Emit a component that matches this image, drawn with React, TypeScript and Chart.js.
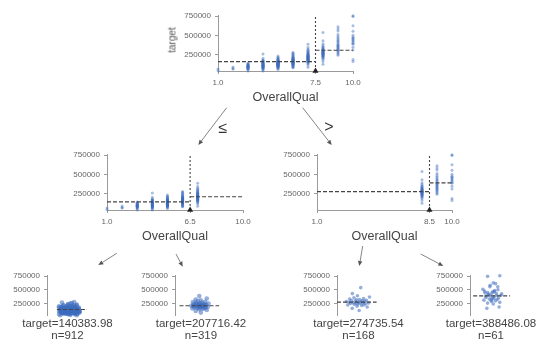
import { useEffect, useRef } from 'react';
import { Chart, registerables } from 'chart.js';

Chart.register(...registerables);

// ---------- data ----------
const FEATURE = 'OverallQual';
const TARGET = 'target';
const Y_MIN = 34900;
const Y_MAX = 755000;
const Y_TICKS = [250000, 500000, 750000];
const X_MIN = 1;
const X_MAX = 10;

const Q1 = [39300, 61000];
const Q2 = [60000, 68000, 87000];
const Q3 = [35311, 55000, 61000, 67000, 72500, 76000, 80000, 84000, 87000, 90000, 93000, 96500, 100000, 106000, 110000, 116000, 122000, 128000, 139600];
const Q4 = [34900, 52000, 60000, 67000, 73000, 78000, 82000, 86000, 89500, 93000, 96000, 99000, 102000, 105000, 108000, 111000, 114500, 118000, 121500, 125000, 129000, 133000, 137500, 142000, 147000, 152000, 158000, 165000, 172000, 180000, 200000, 256000];
const Q5 = [55000, 68000, 76500, 82000, 86000, 90000, 93500, 97000, 100000, 103000, 106000, 108500, 111000, 113500, 116000, 118000, 120000, 122000, 124000, 126000, 128000, 130000, 132000, 134000, 136000, 138000, 140000, 142500, 145000, 147500, 150000, 153000, 156000, 159000, 162500, 166000, 170000, 175000, 181000, 188000, 196000, 205000, 215000, 228950];
const Q6 = [76000, 85000, 93000, 100000, 106000, 112000, 117000, 121000, 125000, 129000, 132500, 136000, 139000, 142000, 145000, 148000, 151000, 154000, 157000, 160000, 163000, 166000, 169000, 172000, 175000, 178000, 181500, 185000, 189000, 193000, 197000, 202000, 208000, 214000, 221000, 230000, 240000, 252000, 265000, 277000];
const Q7 = [82500, 112000, 130000, 142000, 150000, 157000, 163000, 168000, 172500, 176500, 180000, 183500, 187000, 190000, 193000, 196000, 199000, 202000, 205000, 208000, 211000, 214000, 217000, 220000, 223000, 226500, 230000, 234000, 238000, 242000, 247000, 252000, 258000, 265000, 273000, 282000, 293000, 305000, 320000, 340000, 383970];
const Q8 = [122000, 160000, 185000, 200000, 212000, 220000, 227000, 233000, 238000, 243000, 248000, 252000, 256000, 260000, 264000, 268000, 272000, 276000, 280000, 284000, 288000, 292000, 297000, 302000, 308000, 315000, 322000, 330000, 340000, 352000, 368000, 390000, 430000, 538000];
const Q9 = [239000, 256000, 270000, 285000, 297000, 310000, 320000, 330000, 340000, 350000, 360000, 372000, 385000, 400000, 415000, 430000, 445000, 465000, 485000, 510000, 556000, 582000, 611657];
const Q10 = [160000, 184750, 310000, 345000, 385000, 395000, 410000, 426000, 438000, 451000, 465000, 475000, 501000, 555000, 625000, 745000, 755000];

const QUALITY = [1, 2, 3, 4, 5, 6, 7, 8, 9, 10];
const VALUES_BY_QUALITY = [Q1, Q2, Q3, Q4, Q5, Q6, Q7, Q8, Q9, Q10];

const ROOT_SPLIT = 7.5;
const LEFT_SPLIT = 6.5;
const RIGHT_SPLIT = 8.5;
const ROOT_MEANS = [157832.43, 305035.9];
const LEFT_MEANS = [140383.98, 207716.42];
const RIGHT_MEANS = [274735.54, 388486.08];

const LEAF_MEANS = [140383.98, 207716.42, 274735.54, 388486.08];
const LEAF_COUNTS = [912, 319, 168, 61];
const LEAF_QUALITIES = [[1, 2, 3, 4, 5, 6], [7], [8], [9, 10]];

const JITTER = [0.12, -0.45, 0.78, -0.05, 0.33, -0.82, 0.51, -0.27, 0.02, 0.66, -0.6, 0.21, -0.14, 0.9, -0.38, 0.44, -0.71, 0.08, 0.27, -0.93, 0.58, -0.19, 0.36, -0.52, 0.71, -0.09, 0.15, -0.66, 0.48, -0.31, 0.97, -0.02, -0.44, 0.25, -0.76, 0.6, -0.22];

// ---------- style ----------
const FONT = "'Liberation Sans', Arial, sans-serif";
const PT = 'rgba(62,108,190,0.45)';
const PT_LEAF = 'rgba(62,108,190,0.55)';
const AXIS = '#9a9a9a';
const TICK = '#666';
const DASH = '#444';
const YW = 44;

type Box = { l: number; t: number; r: number; b: number };

function yScale(extra: any = {}) {
  return {
    type: 'linear',
    min: Y_MIN,
    max: Y_MAX,
    afterBuildTicks: (s: any) => { s.ticks = Y_TICKS.map((v) => ({ value: v })); },
    afterFit: (s: any) => { s.width = YW; },
    ticks: { autoSkip: false, padding: 4, color: TICK, font: { family: FONT, size: 8 }, callback: (v: any) => String(v) },
    grid: { display: true, drawOnChartArea: false, drawTicks: true, tickLength: 3, color: AXIS },
    border: { display: true, color: AXIS, width: 1 },
    ...extra,
  };
}

function SplitNode({ box, qualities, split, means, yTitle }: { box: Box; qualities: number[]; split: number; means: number[]; yTitle?: boolean }) {
  const ref = useRef<HTMLCanvasElement>(null);
  const PAD = { top: 8, right: 12 };
  const XH = 20;
  const cl = box.l - YW;
  const ct = box.t - PAD.top;
  const cw = box.r - cl + PAD.right;
  const ch = box.b - ct + XH;
  useEffect(() => {
    const pts: { x: number; y: number }[] = [];
    qualities.forEach((q) => {
      VALUES_BY_QUALITY[QUALITY.indexOf(q)].forEach((v) => pts.push({ x: q, y: v }));
    });
    const line = (data: any[], dash: number[]) => ({
      type: 'line', data, showLine: true, borderColor: DASH, borderWidth: 1.1, borderDash: dash,
      pointRadius: 0, fill: false, clip: false,
    });
    const chart = new Chart(ref.current as HTMLCanvasElement, {
      type: 'scatter',
      data: {
        datasets: [
          { type: 'scatter', data: [{ x: split, y: Y_MIN }], pointStyle: 'triangle', pointRadius: 3.5, backgroundColor: '#222', borderColor: '#222', borderWidth: 0, clip: false } as any,
          line([{ x: split, y: Y_MIN }, { x: split, y: Y_MAX + 10000 }], [2, 2]),
          line([{ x: X_MIN, y: means[0] }, { x: split, y: means[0] }], [4, 2]),
          line([{ x: split, y: means[1] }, { x: X_MAX, y: means[1] }], [4, 2]),
          { type: 'scatter', data: pts, pointRadius: 1.5, backgroundColor: PT, borderWidth: 0, clip: false } as any,
        ],
      },
      options: {
        responsive: false,
        animation: false,
        layout: { padding: { left: 0, top: PAD.top, right: PAD.right, bottom: 0 } },
        plugins: { legend: { display: false }, tooltip: { enabled: false } },
        scales: {
          x: {
            type: 'linear', min: X_MIN, max: X_MAX,
            afterBuildTicks: (s: any) => { s.ticks = [X_MIN, split, X_MAX].map((v) => ({ value: v })); },
            afterFit: (s: any) => { s.height = XH; },
            ticks: { autoSkip: false, padding: 4, maxRotation: 0, color: TICK, font: { family: FONT, size: 8 }, callback: (v: any) => Number(v).toFixed(1) },
            grid: { display: true, drawOnChartArea: false, drawTicks: true, tickLength: 3, color: AXIS },
            border: { display: true, color: AXIS, width: 1 },
          },
          y: yScale(),
        },
      } as any,
    } as any);
    return () => chart.destroy();
  }, []);
  return (
    <>
      <canvas ref={ref} width={cw} height={ch} style={{ position: 'absolute', left: cl, top: ct, width: cw, height: ch }} />
      <div style={{ position: 'absolute', left: (box.l + box.r) / 2, top: box.b + 26, transform: 'translate(-50%,-50%)', font: `12.5px ${FONT}`, color: '#444', whiteSpace: 'nowrap' }}>{FEATURE}</div>
      {yTitle ? (
        <div style={{ position: 'absolute', left: box.l - 46, top: box.t + 25, transform: 'translate(-50%,-50%) rotate(-90deg)', font: `10px ${FONT}`, color: '#555', whiteSpace: 'nowrap' }}>{TARGET}</div>
      ) : null}
    </>
  );
}

function Leaf({ box, idx, center, spread, lineFrom, lineTo, textX }: { box: Box; idx: number; center: number; spread: number; lineFrom: number; lineTo: number; textX: number }) {
  const ref = useRef<HTMLCanvasElement>(null);
  const PAD = { top: 8, right: 4, bottom: 8 };
  const cl = box.l - YW;
  const ct = box.t - PAD.top;
  const cw = box.r - cl + PAD.right;
  const ch = box.b - ct + PAD.bottom;
  useEffect(() => {
    const vals: number[] = [];
    LEAF_QUALITIES[idx].forEach((q) => VALUES_BY_QUALITY[QUALITY.indexOf(q)].forEach((v) => vals.push(v)));
    const pts = vals.map((v, i) => ({ x: center + JITTER[i % JITTER.length] * spread, y: v }));
    const m = LEAF_MEANS[idx];
    const chart = new Chart(ref.current as HTMLCanvasElement, {
      type: 'scatter',
      data: {
        datasets: [
          { type: 'line', data: [{ x: lineFrom, y: m }, { x: lineTo, y: m }], showLine: true, borderColor: DASH, borderWidth: 1.1, borderDash: [4, 2], pointRadius: 0, fill: false, clip: false } as any,
          { type: 'scatter', data: pts, pointRadius: idx < 2 ? 2.3 : 1.8, backgroundColor: PT_LEAF, borderWidth: 0, clip: false } as any,
        ],
      },
      options: {
        responsive: false,
        animation: false,
        layout: { padding: { left: 0, top: PAD.top, right: PAD.right, bottom: PAD.bottom } },
        plugins: { legend: { display: false }, tooltip: { enabled: false } },
        scales: {
          x: { type: 'linear', min: 0, max: 1, display: false },
          y: yScale(),
        },
      } as any,
    } as any);
    return () => chart.destroy();
  }, []);
  const txt = { position: 'absolute' as const, left: textX, transform: 'translate(-50%,-50%)', font: `11.5px ${FONT}`, color: '#444', whiteSpace: 'nowrap' as const };
  return (
    <>
      <canvas ref={ref} width={cw} height={ch} style={{ position: 'absolute', left: cl, top: ct, width: cw, height: ch }} />
      <div style={{ ...txt, top: 323 }}>{`${TARGET}=${LEAF_MEANS[idx].toFixed(2)}`}</div>
      <div style={{ ...txt, top: 334.5 }}>{`n=${LEAF_COUNTS[idx]}`}</div>
    </>
  );
}

function Arrow({ x1, y1, x2, y2 }: { x1: number; y1: number; x2: number; y2: number }) {
  const dx = x2 - x1;
  const dy = y2 - y1;
  const len = Math.hypot(dx, dy);
  const ux = dx / len;
  const uy = dy / len;
  const hl = 5;
  const hw = 2.2;
  const bx = x2 - ux * hl;
  const by = y2 - uy * hl;
  const p = `${x2},${y2} ${bx - uy * hw},${by + ux * hw} ${bx + uy * hw},${by - ux * hw}`;
  return (
    <g>
      <line x1={x1} y1={y1} x2={bx} y2={by} stroke="#777" strokeWidth={0.9} />
      <polygon points={p} fill="#555" />
    </g>
  );
}

export default function App() {
  return (
    <div style={{ position: 'absolute', left: 0, top: 0, width: 537, height: 339, overflow: 'hidden', background: '#fff' }}>
      <SplitNode box={{ l: 218, t: 15, r: 353, b: 71 }} qualities={QUALITY} split={ROOT_SPLIT} means={ROOT_MEANS} yTitle />
      <SplitNode box={{ l: 107, t: 154, r: 243, b: 210 }} qualities={[1, 2, 3, 4, 5, 6, 7]} split={LEFT_SPLIT} means={LEFT_MEANS} />
      <SplitNode box={{ l: 317, t: 154, r: 452, b: 210 }} qualities={[8, 9, 10]} split={RIGHT_SPLIT} means={RIGHT_MEANS} />
      <Leaf box={{ l: 47, t: 275, r: 92, b: 316 }} idx={0} center={0.49} spread={0.24} lineFrom={0.22} lineTo={0.89} textX={67.5} />
      <Leaf box={{ l: 175, t: 275, r: 220, b: 316 }} idx={1} center={0.55} spread={0.2} lineFrom={0.1} lineTo={0.98} textX={201} />
      <Leaf box={{ l: 337, t: 275, r: 382, b: 316 }} idx={2} center={0.46} spread={0.27} lineFrom={0.0} lineTo={0.88} textX={358.5} />
      <Leaf box={{ l: 470, t: 275, r: 515, b: 316 }} idx={3} center={0.49} spread={0.22} lineFrom={0.07} lineTo={0.89} textX={491} />
      <svg width={537} height={339} style={{ position: 'absolute', left: 0, top: 0, pointerEvents: 'none' }}>
        <Arrow x1={226.7} y1={107.7} x2={198.3} y2={145} />
        <Arrow x1={302.7} y1={107.7} x2={331.7} y2={145} />
        <Arrow x1={116.7} y1={253.3} x2={98.3} y2={265} />
        <Arrow x1={176} y1={254} x2={182.7} y2={266.7} />
        <Arrow x1={362.7} y1={246} x2={359.3} y2={266} />
        <Arrow x1={420.7} y1={254} x2={443.3} y2={266} />
      </svg>
      <div style={{ position: 'absolute', left: 223, top: 128, transform: 'translate(-50%,-50%)', font: `16px ${FONT}`, color: '#333' }}>≤</div>
      <div style={{ position: 'absolute', left: 329, top: 127, transform: 'translate(-50%,-50%)', font: `16px ${FONT}`, color: '#333' }}>&gt;</div>
    </div>
  );
}
